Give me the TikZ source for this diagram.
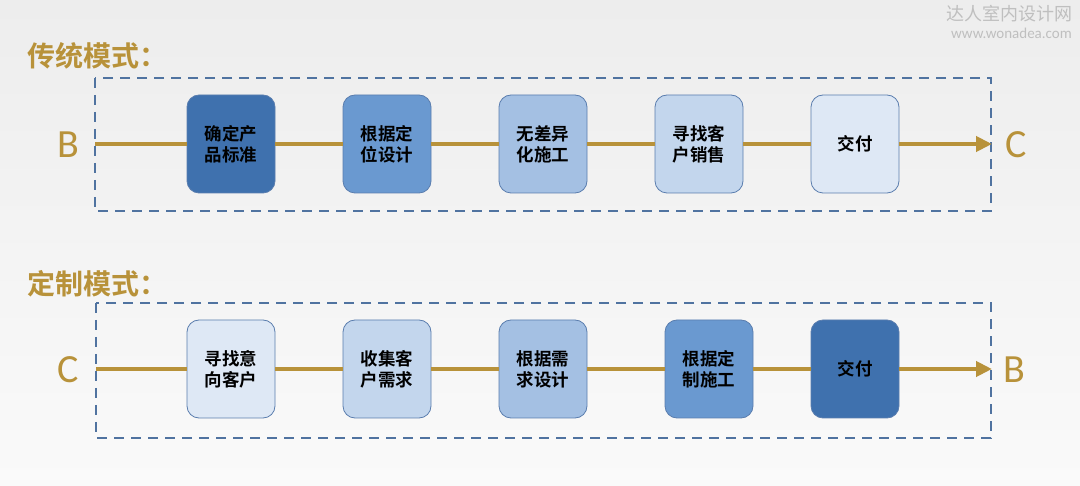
\documentclass[tikz,border=0pt]{standalone}
\usepackage{fontspec}
\newfontfamily\cjk{Noto Sans CJK SC}[BoldFont={Noto Sans CJK SC Bold}]
\newfontfamily\latinsans{Carlito}
\usetikzlibrary{arrows.meta}
\definecolor{gold}{HTML}{B8923A}
\definecolor{dashblue}{HTML}{5073A0}
\definecolor{edgeblue}{HTML}{5A7DAE}
\definecolor{bA}{HTML}{3F71AE}
\definecolor{bB}{HTML}{6A99D0}
\definecolor{bC}{HTML}{A4C0E3}
\definecolor{bD}{HTML}{C3D6ED}
\definecolor{bE}{HTML}{DEE8F5}
\definecolor{bgtop}{HTML}{EDEDED}
\definecolor{bgbot}{HTML}{FAFAFA}
\tikzset{
  stepbox/.style={draw=edgeblue, line width=0.8pt, rounded corners=12pt,
    minimum width=88pt, minimum height=98pt, inner sep=0pt, align=center,
    font=\cjk\bfseries\fontsize{17.5pt}{21pt}\selectfont, text=black},
  flow/.style={draw=gold, line width=4pt},
  flowarrow/.style={flow, -{Triangle[length=16pt,width=15pt]}},
  frame/.style={draw=dashblue, line width=2pt, dash pattern=on 10pt off 7pt},
  endletter/.style={text=gold, font=\latinsans\fontsize{40pt}{40pt}\selectfont, inner sep=0pt},
  title/.style={text=gold, font=\cjk\bfseries\fontsize{28pt}{28pt}\selectfont, anchor=west, inner sep=0pt},
}
\begin{document}
\begin{tikzpicture}[x=1pt,y=-1pt]
\useasboundingbox (0,0) rectangle (1080,486);
\shade[top color=bgtop, bottom color=bgbot] (0,0) rectangle (1080,486);
% watermark
\node[text=black!25, font=\cjk\fontsize{18pt}{18pt}\selectfont, anchor=east, inner sep=0pt] (wm1) at (1073,14) {达人室内设计网};
\node[text=black!25, font=\latinsans\fontsize{15pt}{15pt}\selectfont, anchor=east, inner sep=0pt] (wm2) at (1072,33) {www.wonadea.com};
% titles
\node[title] (t1) at (27,56) {传统模式：};
\node[title] (t2) at (27,284) {定制模式：};
% frames
\draw[frame] (95,78) rectangle (991,211);
\draw[frame] (96,303) rectangle (991,438);
% top row
\coordinate (s1) at (95,144);
\coordinate (e1) at (992,144);
\node[endletter] (B1) at (68,145) {B};
\node[endletter] (C1) at (1016,145) {C};
\node[stepbox, fill=bA] (a1) at (231,144) {确定产\\品标准};
\node[stepbox, fill=bB] (a2) at (387,144) {根据定\\位设计};
\node[stepbox, fill=bC] (a3) at (543,144) {无差异\\化施工};
\node[stepbox, fill=bD] (a4) at (699,144) {寻找客\\户销售};
\node[stepbox, fill=bE] (a5) at (855,144) {交付};
\draw[flow] (s1) -- (a1);
\draw[flow] (a1) -- (a2);
\draw[flow] (a2) -- (a3);
\draw[flow] (a3) -- (a4);
\draw[flow] (a4) -- (a5);
\draw[flowarrow] (a5) -- (e1);
% bottom row
\coordinate (s2) at (96,369);
\coordinate (e2) at (992,369);
\node[endletter] (C2) at (68,370) {C};
\node[endletter] (B2) at (1014,370) {B};
\node[stepbox, fill=bE] (c1) at (231,369) {寻找意\\向客户};
\node[stepbox, fill=bD] (c2) at (387,369) {收集客\\户需求};
\node[stepbox, fill=bC] (c3) at (543,369) {根据需\\求设计};
\node[stepbox, fill=bB] (c4) at (709,369) {根据定\\制施工};
\node[stepbox, fill=bA] (c5) at (855,369) {交付};
\draw[flow] (s2) -- (c1);
\draw[flow] (c1) -- (c2);
\draw[flow] (c2) -- (c3);
\draw[flow] (c3) -- (c4);
\draw[flow] (c4) -- (c5);
\draw[flowarrow] (c5) -- (e2);
\end{tikzpicture}
\end{document}
